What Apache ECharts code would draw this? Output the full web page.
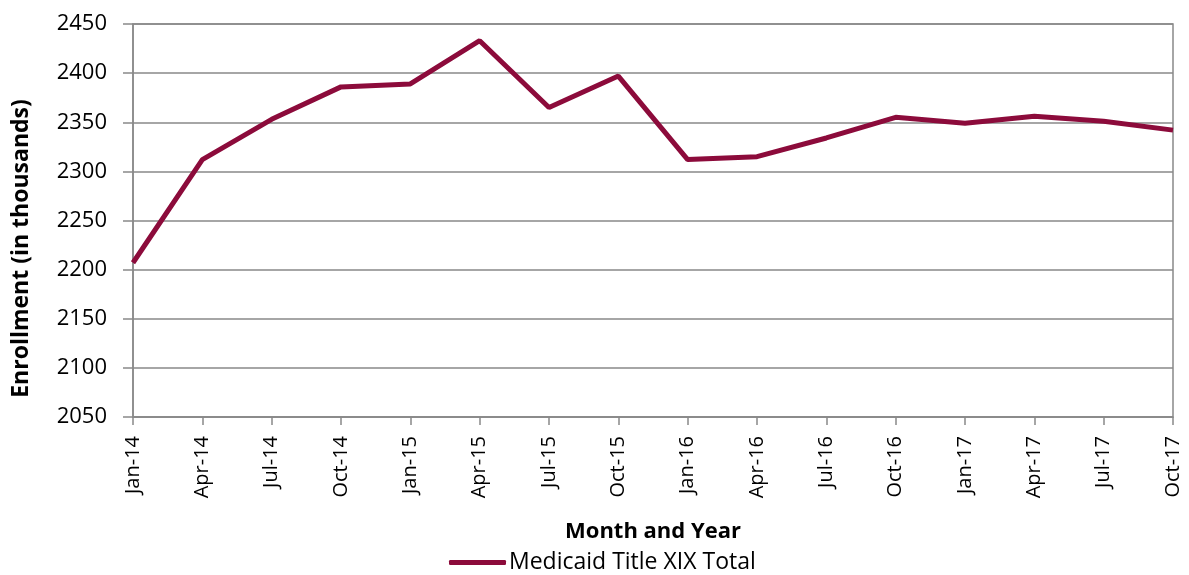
<!DOCTYPE html>
<html>
<head>
<meta charset="utf-8">
<script src="https://cdn.jsdelivr.net/npm/echarts@6/dist/echarts.min.js"></script>
<style>
  html, body { margin: 0; padding: 0; background: #fff; }
  #chart { width: 1189px; height: 575px; }
</style>
</head>
<body>
<div id="chart"></div>
<script>
// quarterly enrollment, in thousands
const months = ['Jan-14', 'Apr-14', 'Jul-14', 'Oct-14', 'Jan-15', 'Apr-15', 'Jul-15', 'Oct-15',
  'Jan-16', 'Apr-16', 'Jul-16', 'Oct-16', 'Jan-17', 'Apr-17', 'Jul-17', 'Oct-17'];
const enrollment = [2207, 2312, 2353, 2386, 2389, 2433, 2365, 2397,
  2312, 2315, 2334, 2355, 2349, 2356, 2351, 2342];
const seriesName = 'Medicaid Title XIX Total';

const font = '"Open Sans", "Noto Sans", sans-serif';
const gray = '#898989';

let myChart = echarts.init(document.getElementById('chart'));

let option = {
  animation: false,
  grid: {
    left: 133, right: 16, top: 24, bottom: 158,
    show: true, borderColor: gray, borderWidth: 1.5
  },
  legend: {
    top: 546,
    left: 444,
    itemWidth: 57,
    itemHeight: 5,
    itemGap: 4,
    icon: 'roundRect',
    textStyle: { fontFamily: font, fontSize: 23, color: '#000', padding: [0, 0, 0, -2] },
    data: [seriesName]
  },
  xAxis: {
    type: 'category',
    data: months,
    boundaryGap: false,
    name: 'Month and Year',
    nameLocation: 'middle',
    nameGap: 104,
    nameTextStyle: { fontFamily: font, fontSize: 22, fontWeight: 'bold', color: '#000' },
    axisLine: { lineStyle: { color: gray, width: 1.5 } },
    axisTick: { alignWithLabel: true, length: 8, lineStyle: { color: gray, width: 1.5 } },
    axisLabel: { rotate: 90, fontFamily: font, fontSize: 20, color: '#000', margin: 19, interval: 0 }
  },
  yAxis: {
    type: 'value',
    min: 2050,
    max: 2450,
    interval: 50,
    name: 'Enrollment (in thousands)',
    nameLocation: 'middle',
    nameGap: 100,
    // 名称略偏下, 与原图一致
    nameTextStyle: {
      fontFamily: font, fontSize: 23, fontWeight: 'bold', color: '#000',
      padding: [0, 56, 0, 0]
    },
    axisLine: { show: true, lineStyle: { color: gray, width: 1.5 } },
    axisTick: { show: true, length: 10, lineStyle: { color: gray, width: 1.5 } },
    axisLabel: {
      fontFamily: font, fontSize: 22, color: '#000', margin: 26,
      formatter: v => String(v)
    },
    splitLine: { lineStyle: { color: gray, width: 1.5 } }
  },
  series: [
    {
      name: seriesName,
      type: 'line',
      data: enrollment,
      symbol: 'none',
      lineStyle: { color: '#8C0B3B', width: 5 },
      itemStyle: { color: '#8C0B3B' }
    }
  ]
};

myChart.setOption(option);
</script>
</body>
</html>
